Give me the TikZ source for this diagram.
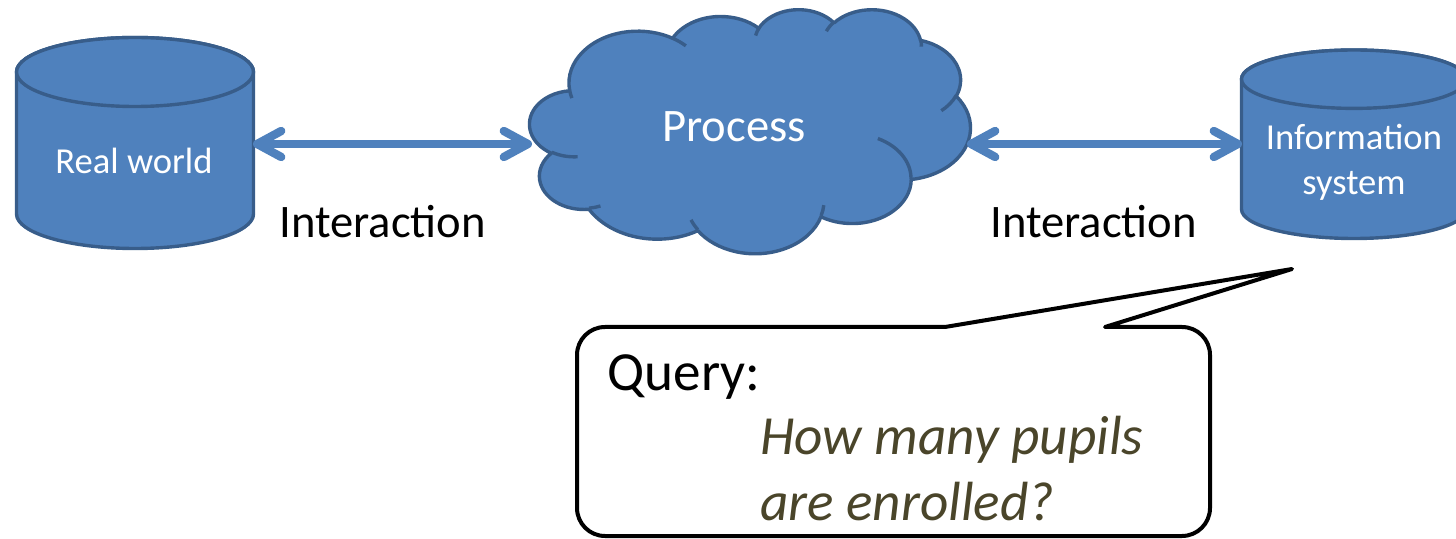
\documentclass[tikz,border=0pt]{standalone}
\usepackage{fontspec}
\setmainfont{Carlito}
\usetikzlibrary{arrows.meta}

\definecolor{shapefill}{HTML}{4F81BD}
\definecolor{shapeline}{HTML}{385D8A}
\definecolor{querytext}{HTML}{4A452A}

\tikzset{
  solid shape/.style={fill=shapefill, draw=shapeline, line width=1.7pt, line join=round},
  cloud rim/.style={draw=shapeline, line width=1.7pt},
  white label/.style={text=white, inner sep=0pt},
  caption/.style={inner sep=0pt, font=\fontsize{23.3}{28}\selectfont},
  link/.style={draw=shapefill, line width=4.2pt,
    {Straight Barb[round,length=12pt,width=13pt]}-{Straight Barb[round,length=12pt,width=13pt]}},
  bubble/.style={draw=black, fill=white, line width=2pt, line join=round},
}

% cylinder: centre x, x radius, top y, bottom y, y radius
\newcommand\drumshape[5]{%
  \path[solid shape] (#1-#2,#3) -- (#1-#2,#4)
    arc[start angle=180, end angle=0, x radius=#2, y radius=#5]
    -- (#1+#2,#3)
    arc[start angle=0, end angle=-180, x radius=#2, y radius=#5] -- cycle;
  \path[solid shape] (#1,#3) ellipse[x radius=#2, y radius=#5];
}

\begin{document}
\begin{tikzpicture}[x=0.5pt, y=-0.5pt]
\path[use as bounding box, clip] (0,0) rectangle (1456,539);

% two data stores
\drumshape{135}{118.5}{72}{214}{34.5}
\drumshape{1354}{112.5}{79.2}{209.3}{29.2}

% the cloud
\begin{scope}[shift={(264.9pt,-4.45pt)}, x=0.5099pt, y=-0.2824pt]
\path[solid shape] (39,143.7)
  arc[start angle=-187.745, end angle=-59.64, x radius=67.53, y radius=91.90]
  arc[start angle=-152.02, end angle=-45.46, x radius=53.33, y radius=72.67]
  arc[start angle=-153.49, end angle=-37.33, x radius=43.65, y radius=59.45]
  arc[start angle=-139.71, end angle=-10.21, x radius=48.57, y radius=65.95]
  arc[start angle=-74.77, end angle=23.21, x radius=53.33, y radius=72.73]
  arc[start angle=-37.52, end angle=81.86, x radius=67.75, y radius=92.20]
  arc[start angle=0.46, end angle=121.97, x radius=57.85, y radius=78.67]
  arc[start angle=16.84, end angle=146.21, x radius=67.52, y radius=92.15]
  arc[start angle=58.98, end angle=150.19, x radius=77.20, y radius=105.43]
  arc[start angle=-276.69, end angle=-136.90, x radius=43.60, y radius=59.18]
  arc[start angle=-239.64, end angle=-95.89, x radius=43.45, y radius=59.45]
  -- cycle;
\draw[cloud rim]
  (46.93,261.77) arc[start angle=85.55, end angle=120.36, x radius=43.45, y radius=59.45]
  (69.28,348.99) arc[start angle=68.23, end angle=83.31, x radius=43.60, y radius=59.18]
  (164.78,390.90) arc[start angle=146.21, end angle=158.47, x radius=67.52, y radius=92.15]
  (288.27,347.51) arc[start angle=4.74, end angle=16.84, x radius=67.52, y radius=92.15]
  (341.29,229.54) arc[start angle=-64.03, end angle=0.46, x radius=57.85, y radius=78.67]
  (417.98,153.54) arc[start angle=23.21, end angle=49.64, x radius=53.33, y radius=72.73]
  (383.24,54.26) arc[start angle=-10.21, end angle=0.82, x radius=48.57, y radius=65.95]
  (290.78,39.52) arc[start angle=-156.29, end angle=-139.71, x radius=48.57, y radius=65.95]
  (221.41,47.20) arc[start angle=-167.73, end angle=-153.49, x radius=43.65, y radius=59.45]
  (140.00,51.92) arc[start angle=-59.64, end angle=-45.73, x radius=67.53, y radius=91.90]
  (41.27,157.89) arc[start angle=163.19, end angle=172.25, x radius=67.53, y radius=91.90];
\end{scope}

% labels inside the shapes (a multi-line node's base is its last line)
\node[white label, font=\fontsize{18.3}{22}\selectfont, anchor=base] (realworld) at (134,174) {Real world};
\node[white label, font=\fontsize{18.3}{22.5}\selectfont, anchor=base, align=center] (infosys) at (1354,195) {Information\\system};
\node[white label, font=\fontsize{23.3}{28}\selectfont, anchor=base] (process) at (734,142) {Process};

% attachment points on the shape outlines
\coordinate (rwR) at (253,144);
\coordinate (clW) at (532,144);
\coordinate (clE) at (967,144);
\coordinate (isL) at (1242,144);

% interactions
\draw[link] (rwR) -- (clW);
\draw[link] (clE) -- (isL);
\node[caption, anchor=base west] (leftint) at (279,238) {Interaction};
\node[caption, anchor=base west] (rightint) at (990,238) {Interaction};

% query callout
\path[bubble] (945,327) -- (1292,269) -- (1105,327) -- (1182,327)
  arc[start angle=-90, end angle=0, radius=28] -- (1210,508)
  arc[start angle=0, end angle=90, radius=28] -- (605,536)
  arc[start angle=90, end angle=180, radius=28] -- (577,355)
  arc[start angle=180, end angle=270, radius=28] -- cycle;
\node[inner sep=0pt, font=\fontsize{27.6}{33}\selectfont, anchor=base west] (qhead) at (607,391) {Query:};
\node[inner sep=0pt, font=\fontsize{27.6}{32.5}\selectfont\itshape, text=querytext, anchor=base west, align=left] (qtext) at (760,520) {How many pupils\\are enrolled?};
\end{tikzpicture}
\end{document}
